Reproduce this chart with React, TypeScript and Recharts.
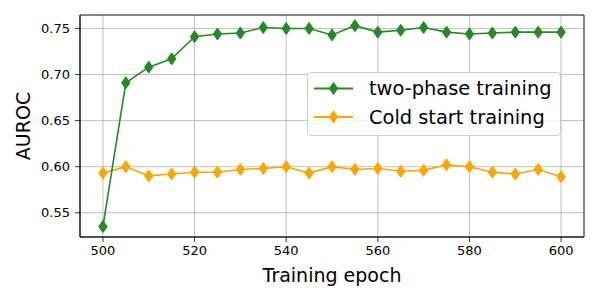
import React from 'react';
import { LineChart, Line, XAxis, YAxis, CartesianGrid, ReferenceArea, Legend } from 'recharts';

const epochs = [500, 505, 510, 515, 520, 525, 530, 535, 540, 545, 550, 555, 560, 565, 570, 575, 580, 585, 590, 595, 600];
const twoPhase = [0.535, 0.691, 0.708, 0.717, 0.741, 0.744, 0.745, 0.751, 0.750, 0.750, 0.743, 0.753, 0.746, 0.748, 0.751, 0.746, 0.744, 0.745, 0.746, 0.746, 0.746];
const coldStart = [0.593, 0.600, 0.590, 0.592, 0.594, 0.594, 0.597, 0.598, 0.600, 0.593, 0.600, 0.597, 0.598, 0.595, 0.596, 0.602, 0.600, 0.594, 0.592, 0.597, 0.589];
const xTicks = [500, 520, 540, 560, 580, 600];
const yTicks = [0.55, 0.6, 0.65, 0.7, 0.75];
const seriesNames = ['two-phase training', 'Cold start training'];
const seriesColors = ['#228B22', '#FFA500'];
const xDomain: [number, number] = [495, 605];
const yDomain: [number, number] = [0.5237, 0.7646];

const data = epochs.map((e, i) => ({ epoch: e, twoPhase: twoPhase[i], coldStart: coldStart[i] }));

const FONT = 'DejaVu Sans';

const diamondPath = (cx: number, cy: number, hw = 4.2, hh = 6) =>
  `M${cx},${cy - hh} L${cx + hw},${cy} L${cx},${cy + hh} L${cx - hw},${cy} Z`;

const makeDot = (color: string) => (props: any) => {
  const { cx, cy, index } = props;
  if (cx == null || cy == null) return <g key={`d-${index}`} />;
  return <path key={`d-${color}-${index}`} d={diamondPath(cx, cy)} fill={color} stroke={color} strokeWidth={1} />;
};

const LegendBox = () => (
  <svg width={254} height={64} style={{ display: 'block', overflow: 'visible' }}>
    <rect x={0.5} y={0.5} width={253} height={63} rx={3} ry={3} fill="rgba(255,255,255,0.8)" stroke="#cccccc" strokeWidth={1} />
    {seriesNames.map((name, i) => {
      const cy = 16.5 + i * 28.4;
      return (
        <g key={name}>
          <line x1={7} y1={cy} x2={46} y2={cy} stroke={seriesColors[i]} strokeWidth={2} />
          <path d={diamondPath(26.5, cy)} fill={seriesColors[i]} stroke={seriesColors[i]} strokeWidth={1} />
          <text x={62} y={cy + 6.8} fontFamily={FONT} fontSize={19.4} fill="#000">{name}</text>
        </g>
      );
    })}
  </svg>
);

export default function App() {
  return (
    <div style={{ position: 'absolute', left: 0, top: 0, width: 600, height: 300, background: '#fff' }}>
      <LineChart width={600} height={300} data={data} margin={{ top: 15, right: 16, bottom: 0, left: 0 }}>
        <CartesianGrid stroke="#b0b0b0" strokeWidth={0.8} horizontal vertical />
        <XAxis
          dataKey="epoch"
          type="number"
          domain={xDomain}
          ticks={xTicks}
          allowDataOverflow
          height={63}
          tickSize={5}
          tickMargin={4}
          axisLine={{ stroke: '#000', strokeWidth: 0.8 }}
          tickLine={{ stroke: '#000', strokeWidth: 0.8 }}
          tick={{ fontSize: 13, fill: '#000', fontFamily: FONT }}
          label={(p: any) => {
            const vb = p.viewBox;
            return (
              <text x={vb.x + vb.width / 2} y={vb.y + 44.5} textAnchor="middle" fontFamily={FONT} fontSize={19} fill="#000">
                Training epoch
              </text>
            );
          }}
        />
        <YAxis
          type="number"
          domain={yDomain}
          ticks={yTicks}
          allowDataOverflow
          width={80}
          tickSize={5}
          tickMargin={5}
          tickFormatter={(v: number) => v.toFixed(2)}
          axisLine={{ stroke: '#000', strokeWidth: 0.8 }}
          tickLine={{ stroke: '#000', strokeWidth: 0.8 }}
          tick={{ fontSize: 13, fill: '#000', fontFamily: FONT }}
          label={(p: any) => {
            const vb = p.viewBox;
            const x = vb.x + 23;
            const y = vb.y + vb.height / 2;
            return (
              <text x={x} y={y} transform={`rotate(-90, ${x}, ${y})`} textAnchor="middle" dominantBaseline="central" fontFamily={FONT} fontSize={19} fill="#000">
                AUROC
              </text>
            );
          }}
        />
        <ReferenceArea x1={xDomain[0]} x2={xDomain[1]} y1={yDomain[0]} y2={yDomain[1]} fill="none" stroke="#000" strokeWidth={0.8} ifOverflow="visible" />
        <Line
          dataKey="coldStart"
          name={seriesNames[1]}
          stroke={seriesColors[1]}
          strokeWidth={1.6}
          dot={makeDot(seriesColors[1])}
          activeDot={false}
          isAnimationActive={false}
        />
        <Line
          dataKey="twoPhase"
          name={seriesNames[0]}
          stroke={seriesColors[0]}
          strokeWidth={1.6}
          dot={makeDot(seriesColors[0])}
          activeDot={false}
          isAnimationActive={false}
        />
        <Legend
          layout="horizontal"
          verticalAlign="middle"
          align="center"
          content={() => <LegendBox />}
          wrapperStyle={{ position: 'absolute', left: 307, top: 72, width: 254, height: 64 }}
        />
      </LineChart>
    </div>
  );
}
